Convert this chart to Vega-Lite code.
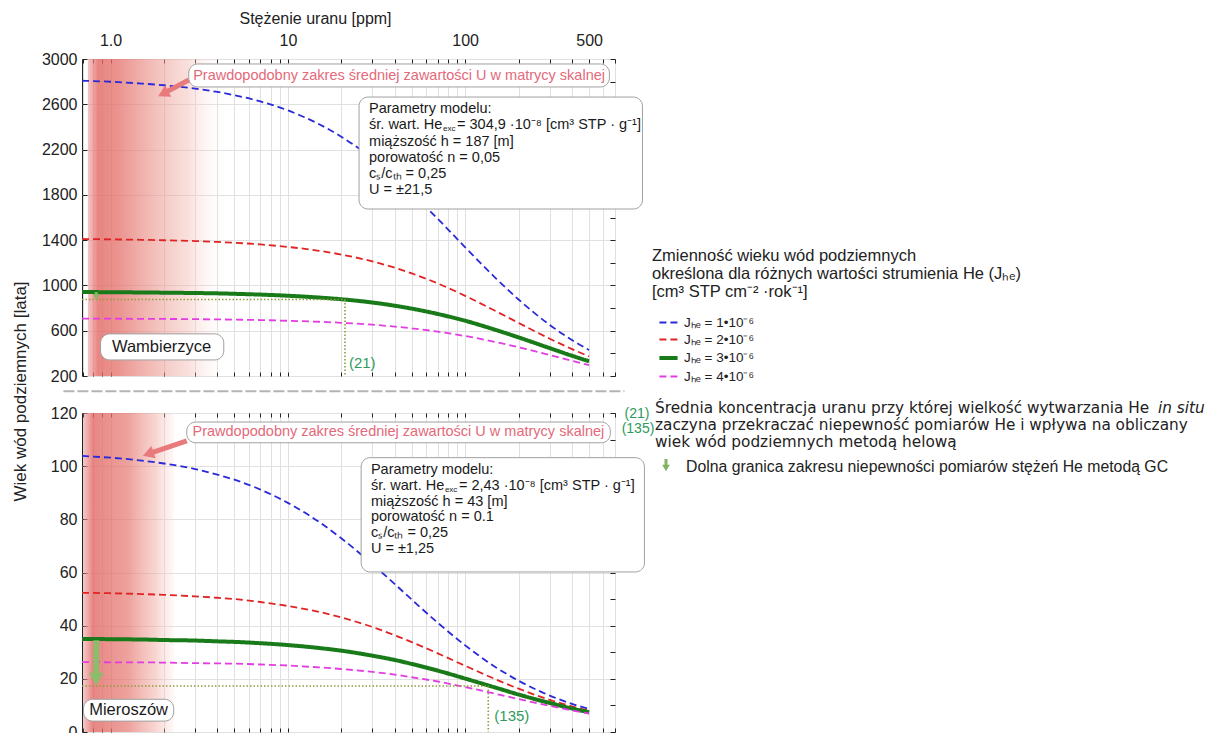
{
"$schema": "https://vega.github.io/schema/vega-lite/v6.json",
"background": "white",
"padding": {"left": 10, "top": 9, "right": 0, "bottom": 0},
"config": {
  "font": "Liberation Sans",
  "view": {"stroke": "#222", "strokeWidth": 1},
  "axis": {"domain": false, "labelFont": "Liberation Sans", "labelColor": "#222", "tickColor": "#222", "titleColor": "#222", "titleFontWeight": "normal", "gridColor": "#e0e0e0", "gridWidth": 1, "labelFontSize": 16, "titleFontSize": 16, "labelOverlap": false, "labelFlush": false, "labelBound": false},
  "legend": {"orient": "none", "legendX": 570, "legendY": 189, "padding": 0, "titleFont": "Liberation Sans", "titleFontSize": 16.5, "titleFontWeight": "normal", "titleLineHeight": 18, "titleColor": "#222", "titleLimit": 700, "titlePadding": 12, "labelFont": "Liberation Sans", "labelFontSize": 13.5, "labelColor": "#222", "symbolType": "stroke", "symbolSize": 330, "rowPadding": 0, "labelOffset": 4, "symbolOffset": 5},
  "text": {"font": "Liberation Sans"}
},
"datasets": {
  "curves": [
    {"p":"top","j":1,"u":0.69,"t":2808},{"p":"top","j":1,"u":0.8,"t":2805},{"p":"top","j":1,"u":1,"t":2799},{"p":"top","j":1,"u":1.5,"t":2783},{"p":"top","j":1,"u":2,"t":2768},{"p":"top","j":1,"u":3,"t":2738},{"p":"top","j":1,"u":4,"t":2709},{"p":"top","j":1,"u":5,"t":2680},{"p":"top","j":1,"u":7,"t":2625},{"p":"top","j":1,"u":10,"t":2546},{"p":"top","j":1,"u":15,"t":2424},{"p":"top","j":1,"u":20,"t":2314},{"p":"top","j":1,"u":30,"t":2120},{"p":"top","j":1,"u":40,"t":1957},{"p":"top","j":1,"u":50,"t":1816},{"p":"top","j":1,"u":70,"t":1589},{"p":"top","j":1,"u":100,"t":1337},{"p":"top","j":1,"u":150,"t":1058},{"p":"top","j":1,"u":200,"t":876},{"p":"top","j":1,"u":300,"t":651},{"p":"top","j":1,"u":400,"t":518},{"p":"top","j":1,"u":500,"t":430},
    {"p":"top","j":2,"u":0.69,"t":1410},{"p":"top","j":2,"u":0.8,"t":1409},{"p":"top","j":2,"u":1,"t":1407},{"p":"top","j":2,"u":1.5,"t":1403},{"p":"top","j":2,"u":2,"t":1399},{"p":"top","j":2,"u":3,"t":1392},{"p":"top","j":2,"u":4,"t":1384},{"p":"top","j":2,"u":5,"t":1377},{"p":"top","j":2,"u":7,"t":1362},{"p":"top","j":2,"u":10,"t":1340},{"p":"top","j":2,"u":15,"t":1306},{"p":"top","j":2,"u":20,"t":1273},{"p":"top","j":2,"u":30,"t":1212},{"p":"top","j":2,"u":40,"t":1157},{"p":"top","j":2,"u":50,"t":1106},{"p":"top","j":2,"u":70,"t":1018},{"p":"top","j":2,"u":100,"t":908},{"p":"top","j":2,"u":150,"t":770},{"p":"top","j":2,"u":200,"t":669},{"p":"top","j":2,"u":300,"t":529},{"p":"top","j":2,"u":400,"t":438},{"p":"top","j":2,"u":500,"t":373},
    {"p":"top","j":3,"u":0.69,"t":941},{"p":"top","j":3,"u":0.8,"t":941},{"p":"top","j":3,"u":1,"t":940},{"p":"top","j":3,"u":1.5,"t":938},{"p":"top","j":3,"u":2,"t":936},{"p":"top","j":3,"u":3,"t":933},{"p":"top","j":3,"u":4,"t":930},{"p":"top","j":3,"u":5,"t":926},{"p":"top","j":3,"u":7,"t":919},{"p":"top","j":3,"u":10,"t":909},{"p":"top","j":3,"u":15,"t":893},{"p":"top","j":3,"u":20,"t":878},{"p":"top","j":3,"u":30,"t":849},{"p":"top","j":3,"u":40,"t":821},{"p":"top","j":3,"u":50,"t":795},{"p":"top","j":3,"u":70,"t":748},{"p":"top","j":3,"u":100,"t":688},{"p":"top","j":3,"u":150,"t":605},{"p":"top","j":3,"u":200,"t":541},{"p":"top","j":3,"u":300,"t":446},{"p":"top","j":3,"u":400,"t":379},{"p":"top","j":3,"u":500,"t":330},
    {"p":"top","j":4,"u":0.69,"t":706},{"p":"top","j":4,"u":0.8,"t":706},{"p":"top","j":4,"u":1,"t":706},{"p":"top","j":4,"u":1.5,"t":705},{"p":"top","j":4,"u":2,"t":704},{"p":"top","j":4,"u":3,"t":702},{"p":"top","j":4,"u":4,"t":700},{"p":"top","j":4,"u":5,"t":698},{"p":"top","j":4,"u":7,"t":694},{"p":"top","j":4,"u":10,"t":688},{"p":"top","j":4,"u":15,"t":679},{"p":"top","j":4,"u":20,"t":670},{"p":"top","j":4,"u":30,"t":653},{"p":"top","j":4,"u":40,"t":636},{"p":"top","j":4,"u":50,"t":621},{"p":"top","j":4,"u":70,"t":592},{"p":"top","j":4,"u":100,"t":553},{"p":"top","j":4,"u":150,"t":499},{"p":"top","j":4,"u":200,"t":454},{"p":"top","j":4,"u":300,"t":385},{"p":"top","j":4,"u":400,"t":334},{"p":"top","j":4,"u":500,"t":295},
    {"p":"bot","j":1,"u":0.69,"t":103.9},{"p":"bot","j":1,"u":0.8,"t":103.6},{"p":"bot","j":1,"u":1,"t":103.2},{"p":"bot","j":1,"u":1.5,"t":102.1},{"p":"bot","j":1,"u":2,"t":101.0},{"p":"bot","j":1,"u":3,"t":98.9},{"p":"bot","j":1,"u":4,"t":96.8},{"p":"bot","j":1,"u":5,"t":94.9},{"p":"bot","j":1,"u":7,"t":91.2},{"p":"bot","j":1,"u":10,"t":86.2},{"p":"bot","j":1,"u":15,"t":79.0},{"p":"bot","j":1,"u":20,"t":72.9},{"p":"bot","j":1,"u":30,"t":63.1},{"p":"bot","j":1,"u":40,"t":55.7},{"p":"bot","j":1,"u":50,"t":49.8},{"p":"bot","j":1,"u":70,"t":41.1},{"p":"bot","j":1,"u":100,"t":32.6},{"p":"bot","j":1,"u":150,"t":24.2},{"p":"bot","j":1,"u":200,"t":19.3},{"p":"bot","j":1,"u":300,"t":13.7},{"p":"bot","j":1,"u":400,"t":10.6},{"p":"bot","j":1,"u":500,"t":8.65},
    {"p":"bot","j":2,"u":0.69,"t":52.3},{"p":"bot","j":2,"u":0.8,"t":52.3},{"p":"bot","j":2,"u":1,"t":52.2},{"p":"bot","j":2,"u":1.5,"t":51.9},{"p":"bot","j":2,"u":2,"t":51.6},{"p":"bot","j":2,"u":3,"t":51.0},{"p":"bot","j":2,"u":4,"t":50.5},{"p":"bot","j":2,"u":5,"t":50.0},{"p":"bot","j":2,"u":7,"t":48.9},{"p":"bot","j":2,"u":10,"t":47.4},{"p":"bot","j":2,"u":15,"t":45.2},{"p":"bot","j":2,"u":20,"t":43.1},{"p":"bot","j":2,"u":30,"t":39.5},{"p":"bot","j":2,"u":40,"t":36.4},{"p":"bot","j":2,"u":50,"t":33.8},{"p":"bot","j":2,"u":70,"t":29.6},{"p":"bot","j":2,"u":100,"t":24.9},{"p":"bot","j":2,"u":150,"t":19.7},{"p":"bot","j":2,"u":200,"t":16.3},{"p":"bot","j":2,"u":300,"t":12.1},{"p":"bot","j":2,"u":400,"t":9.64},{"p":"bot","j":2,"u":500,"t":8.0},
    {"p":"bot","j":3,"u":0.69,"t":35.0},{"p":"bot","j":3,"u":0.8,"t":35.0},{"p":"bot","j":3,"u":1,"t":34.9},{"p":"bot","j":3,"u":1.5,"t":34.8},{"p":"bot","j":3,"u":2,"t":34.6},{"p":"bot","j":3,"u":3,"t":34.4},{"p":"bot","j":3,"u":4,"t":34.1},{"p":"bot","j":3,"u":5,"t":33.9},{"p":"bot","j":3,"u":7,"t":33.4},{"p":"bot","j":3,"u":10,"t":32.7},{"p":"bot","j":3,"u":15,"t":31.6},{"p":"bot","j":3,"u":20,"t":30.6},{"p":"bot","j":3,"u":30,"t":28.7},{"p":"bot","j":3,"u":40,"t":27.1},{"p":"bot","j":3,"u":50,"t":25.6},{"p":"bot","j":3,"u":70,"t":23.1},{"p":"bot","j":3,"u":100,"t":20.1},{"p":"bot","j":3,"u":150,"t":16.6},{"p":"bot","j":3,"u":200,"t":14.1},{"p":"bot","j":3,"u":300,"t":10.9},{"p":"bot","j":3,"u":400,"t":8.83},{"p":"bot","j":3,"u":500,"t":7.43},
    {"p":"bot","j":4,"u":0.69,"t":26.3},{"p":"bot","j":4,"u":0.8,"t":26.3},{"p":"bot","j":4,"u":1,"t":26.2},{"p":"bot","j":4,"u":1.5,"t":26.2},{"p":"bot","j":4,"u":2,"t":26.1},{"p":"bot","j":4,"u":3,"t":25.9},{"p":"bot","j":4,"u":4,"t":25.8},{"p":"bot","j":4,"u":5,"t":25.7},{"p":"bot","j":4,"u":7,"t":25.4},{"p":"bot","j":4,"u":10,"t":25.0},{"p":"bot","j":4,"u":15,"t":24.3},{"p":"bot","j":4,"u":20,"t":23.7},{"p":"bot","j":4,"u":30,"t":22.6},{"p":"bot","j":4,"u":40,"t":21.6},{"p":"bot","j":4,"u":50,"t":20.6},{"p":"bot","j":4,"u":70,"t":19.0},{"p":"bot","j":4,"u":100,"t":16.9},{"p":"bot","j":4,"u":150,"t":14.3},{"p":"bot","j":4,"u":200,"t":12.4},{"p":"bot","j":4,"u":300,"t":9.85},{"p":"bot","j":4,"u":400,"t":8.15},{"p":"bot","j":4,"u":500,"t":6.95}
  ],
  "ann": [
    {"p":"top","k":"band","u":0.745,"u2":4.6,"t":200,"t2":3000},
    {"p":"top","k":"dot","u":0.69,"u2":21,"t":876,"t2":876},
    {"p":"top","k":"dot","u":21,"u2":21,"t":876,"t2":200},
    {"p":"top","k":"gshaft","u":0.83,"u2":0.83,"t":941,"t2":905},
    {"p":"top","k":"ghead","u":0.83,"t":898},
    {"p":"top","k":"pshaft","u":2.76,"u2":1.98,"t":2815,"t2":2694},
    {"p":"top","k":"phead","u":1.98,"t":2694},
    {"p":"top","k":"box","u":2.76,"u2":651,"t":2956,"t2":2753},
    {"p":"top","k":"box","u":25.2,"u2":1000,"t":2664,"t2":1675},
    {"p":"top","k":"box","u":0.878,"u2":4.35,"t":572,"t2":342},
    {"p":"top","k":"ptxt","u":42.4,"t":2854,"txt":"Prawdopodobny zakres średniej zawartości U w matrycy skalnej"},
    {"p":"top","k":"txt","u":28.7,"t":2558,"txt":"Parametry modelu:"},
    {"p":"top","k":"txt","u":28.7,"t":2417,"txt":"śr. wart. He"},
    {"p":"top","k":"sub","u":28.7,"t":2417,"txt":"exc"},
    {"p":"top","k":"rest","u":28.7,"t":2417,"txt":"= 304,9 ·10⁻⁸  [cm³ STP · g⁻¹]"},
    {"p":"top","k":"txt","u":28.7,"t":2267,"txt":"miąższość h = 187 [m]"},
    {"p":"top","k":"txt","u":28.7,"t":2126,"txt":"porowatość n = 0,05"},
    {"p":"top","k":"txt","u":28.7,"t":1985,"txt":"cₛ/cₜₕ = 0,25"},
    {"p":"top","k":"txt","u":28.7,"t":1844,"txt":"U = ±21,5"},
    {"p":"top","k":"ctxt","u":1.94,"t":457,"txt":"Wambierzyce"},
    {"p":"top","k":"gtxt","u":22.1,"t":316,"txt":"(21)"},
    {"p":"bot","k":"sep","u":0.542,"u2":791,"t":128.2},
    {"p":"bot","k":"band","u":0.704,"u2":2.27,"t":0,"t2":120},
    {"p":"bot","k":"dot","u":0.69,"u2":135,"t":17.3,"t2":17.3},
    {"p":"bot","k":"dot","u":135,"u2":135,"t":17.3,"t2":0},
    {"p":"bot","k":"gshaft","u":0.83,"u2":0.83,"t":34.5,"t2":22},
    {"p":"bot","k":"ghead","u":0.83,"t":19.9},
    {"p":"bot","k":"pshaft","u":2.69,"u2":1.63,"t":109.5,"t2":104.6},
    {"p":"bot","k":"phead","u":1.63,"t":104.6},
    {"p":"bot","k":"box","u":2.69,"u2":659,"t":116.6,"t2":108.8},
    {"p":"bot","k":"box","u":25.9,"u2":1026,"t":103.2,"t2":60.2},
    {"p":"bot","k":"box","u":0.704,"u2":2.27,"t":12.3,"t2":4.1},
    {"p":"bot","k":"ptxt","u":42,"t":112.9,"txt":"Prawdopodobny zakres średniej zawartości U w matrycy skalnej"},
    {"p":"bot","k":"txt","u":29.4,"t":98.7,"txt":"Parametry modelu:"},
    {"p":"bot","k":"txt","u":29.4,"t":92.7,"txt":"śr. wart. He"},
    {"p":"bot","k":"sub","u":29.4,"t":92.7,"txt":"exc"},
    {"p":"bot","k":"rest","u":29.4,"t":92.7,"txt":"= 2,43 ·10⁻⁸  [cm³ STP · g⁻¹]"},
    {"p":"bot","k":"txt","u":29.4,"t":86.7,"txt":"miąższość h = 43 [m]"},
    {"p":"bot","k":"txt","u":29.4,"t":80.7,"txt":"porowatość n = 0.1"},
    {"p":"bot","k":"txt","u":29.4,"t":74.8,"txt":"cₛ/cₜₕ = 0,25"},
    {"p":"bot","k":"txt","u":29.4,"t":68.8,"txt":"U = ±1,25"},
    {"p":"bot","k":"ctxt","u":1.264,"t":8.2,"txt":"Mieroszów"},
    {"p":"bot","k":"gtxt","u":146,"t":6.0,"txt":"(135)"}
  ],
  "notes": [
    {"k":"g","x":17,"y":355,"txt":"(21)"},
    {"k":"g","x":18,"y":370,"txt":"(135)"},
    {"k":"t","x":35,"y":349,"txt":"Średnia koncentracja uranu przy której wielkość wytwarzania He"},
    {"k":"i","x":538,"y":349,"txt":"in situ"},
    {"k":"t","x":35,"y":366,"txt":"zaczyna przekraczać niepewność pomiarów He i wpływa na obliczany"},
    {"k":"t","x":35,"y":383,"txt":"wiek wód podziemnych metodą helową"},
    {"k":"d","x":66,"y":408,"txt":"Dolna granica zakresu niepewności pomiarów stężeń He metodą GC"},
    {"k":"shaft","x":46,"y":400,"y2":407},
    {"k":"head","x":46,"y":409}
  ]
},
"hconcat": [
  {
    "vconcat": [
      {
        "width": 533, "height": 317,
        "resolve": {"axis": {"x": "independent", "y": "independent"}},
        "layer": [
          {
            "data": {"name": "ann"}, "transform": [{"filter": "datum.p=='top' && datum.k=='band'"}],
            "mark": {"type": "rect", "fill": {"gradient": "linear", "x1": 0, "y1": 0, "x2": 1, "y2": 0, "stops": [
              {"offset": 0, "color": "rgba(236,150,148,0.55)"},
              {"offset": 0.07, "color": "rgba(226,104,100,0.8)"},
              {"offset": 0.22, "color": "rgba(228,112,106,0.75)"},
              {"offset": 0.45, "color": "rgba(234,142,134,0.6)"},
              {"offset": 0.72, "color": "rgba(242,182,174,0.42)"},
              {"offset": 1, "color": "rgba(255,255,255,0)"}]}},
            "encoding": {
              "x": {"field": "u", "type": "quantitative", "scale": {"type": "log", "domain": [0.69, 700], "nice": false},
                    "axis": {"orient": "top", "values": [0.7,0.8,0.9,1,2,3,4,5,6,7,8,9,10,20,30,40,50,60,70,80,90,100,200,300,400,500,600,700],
                             "labelExpr": "datum.value==1 ? '1.0' : (datum.value==10 || datum.value==100 || datum.value==500) ? format(datum.value,'d') : ''",
                             "grid": true, "tickSize": -4, "labelPadding": 15,
                             "title": "Stężenie uranu [ppm]", "titleX": 233, "titleY": -41, "titleAlign": "center", "titleBaseline": "middle"}},
              "x2": {"field": "u2"},
              "y": {"field": "t", "type": "quantitative", "scale": {"domain": [200, 3000], "nice": false, "zero": false},
                    "axis": {"orient": "left", "values": [200,600,1000,1400,1800,2200,2600,3000], "format": "d", "grid": true, "tickSize": -5, "labelPadding": 10,
                             "title": "Wiek wód podziemnych [lata]", "titleFontSize": 17, "titleX": -62, "titleY": 332, "titleAngle": 270, "titleAlign": "center", "titleBaseline": "middle"}},
              "y2": {"field": "t2"}
            }
          },
          {
            "data": {"name": "curves"}, "transform": [{"filter": "datum.p=='top'"}],
            "mark": {"type": "line", "interpolate": "monotone"},
            "encoding": {
              "x": {"field": "u", "type": "quantitative", "scale": {"type": "log", "domain": [0.69, 700], "nice": false},
                    "axis": {"orient": "bottom", "values": [0.7,0.8,0.9,1,2,3,4,5,6,7,8,9,10,20,30,40,50,60,70,80,90,100,200,300,400,500,600,700], "labels": false, "grid": false, "tickSize": -4, "title": null}},
              "y": {"field": "t", "type": "quantitative", "scale": {"domain": [200, 3000], "nice": false, "zero": false},
                    "axis": {"orient": "right", "values": [200,400,600,800,1000,1200,1400,1600,1800,2000,2200,2400,2600,2800,3000], "labels": false, "grid": false, "tickSize": -5, "title": null}},
              "color": {"field": "j", "type": "ordinal", "scale": {"domain": [1,2,3,4], "range": ["#2a2ad8", "#e02424", "#187a18", "#e23ce2"]},
                        "legend": {"title": ["Zmienność wieku wód podziemnych", "określona dla różnych wartości strumienia He (Jₕₑ)", "[cm³ STP cm⁻² ·rok⁻¹]"], "labelExpr": "'Jₕₑ = ' + datum.label + '•10⁻⁶'"}},
              "strokeDash": {"field": "j", "type": "ordinal", "scale": {"type": "ordinal", "domain": [1,2,3,4], "range": [[7,4],[7,4],[1,0],[7,4]]},
                        "legend": {"title": ["Zmienność wieku wód podziemnych", "określona dla różnych wartości strumienia He (Jₕₑ)", "[cm³ STP cm⁻² ·rok⁻¹]"], "labelExpr": "'Jₕₑ = ' + datum.label + '•10⁻⁶'"}},
              "strokeWidth": {"field": "j", "type": "ordinal", "scale": {"type": "ordinal", "domain": [1,2,3,4], "range": [1.8,1.8,4,1.8]},
                        "legend": {"title": ["Zmienność wieku wód podziemnych", "określona dla różnych wartości strumienia He (Jₕₑ)", "[cm³ STP cm⁻² ·rok⁻¹]"], "labelExpr": "'Jₕₑ = ' + datum.label + '•10⁻⁶'"}}
            }
          },
          {
            "data": {"name": "ann"}, "transform": [{"filter": "datum.p=='top' && datum.k=='dot'"}],
            "mark": {"type": "rule", "color": "#8e9c3e", "strokeWidth": 1.6, "strokeDash": [1.5, 2]},
            "encoding": {
              "x": {"field": "u", "type": "quantitative", "scale": {"type": "log", "domain": [0.69, 700], "nice": false}, "axis": null},
              "x2": {"field": "u2"},
              "y": {"field": "t", "type": "quantitative", "scale": {"domain": [200, 3000], "nice": false, "zero": false}, "axis": null},
              "y2": {"field": "t2"}
            }
          },
          {
            "data": {"name": "ann"}, "transform": [{"filter": "datum.p=='top' && datum.k=='gshaft'"}],
            "mark": {"type": "rule", "color": "#86b866", "strokeWidth": 3},
            "encoding": {
              "x": {"field": "u", "type": "quantitative", "scale": {"type": "log", "domain": [0.69, 700], "nice": false}, "axis": null},
              "y": {"field": "t", "type": "quantitative", "scale": {"domain": [200, 3000], "nice": false, "zero": false}, "axis": null},
              "y2": {"field": "t2"}
            }
          },
          {
            "data": {"name": "ann"}, "transform": [{"filter": "datum.p=='top' && datum.k=='ghead'"}],
            "mark": {"type": "point", "shape": "triangle-down", "filled": true, "color": "#86b866", "size": 45, "opacity": 1},
            "encoding": {
              "x": {"field": "u", "type": "quantitative", "scale": {"type": "log", "domain": [0.69, 700], "nice": false}, "axis": null},
              "y": {"field": "t", "type": "quantitative", "scale": {"domain": [200, 3000], "nice": false, "zero": false}, "axis": null}
            }
          },
          {
            "data": {"name": "ann"}, "transform": [{"filter": "datum.p=='top' && datum.k=='box'"}],
            "mark": {"type": "rect", "fill": "white", "stroke": "#a0a0a0", "strokeWidth": 1, "cornerRadius": 9, "clip": false},
            "encoding": {
              "x": {"field": "u", "type": "quantitative", "scale": {"type": "log", "domain": [0.69, 700], "nice": false}, "axis": null},
              "x2": {"field": "u2"},
              "y": {"field": "t", "type": "quantitative", "scale": {"domain": [200, 3000], "nice": false, "zero": false}, "axis": null},
              "y2": {"field": "t2"}
            }
          },
          {
            "data": {"name": "ann"}, "transform": [{"filter": "datum.p=='top' && datum.k=='pshaft'"}],
            "mark": {"type": "rule", "color": "#e97a7c", "strokeWidth": 5},
            "encoding": {
              "x": {"field": "u", "type": "quantitative", "scale": {"type": "log", "domain": [0.69, 700], "nice": false}, "axis": null},
              "x2": {"field": "u2"},
              "y": {"field": "t", "type": "quantitative", "scale": {"domain": [200, 3000], "nice": false, "zero": false}, "axis": null},
              "y2": {"field": "t2"}
            }
          },
          {
            "data": {"name": "ann"}, "transform": [{"filter": "datum.p=='top' && datum.k=='phead'"}],
            "mark": {"type": "point", "shape": "triangle-up", "filled": true, "color": "#e97a7c", "size": 170, "angle": 242, "opacity": 1},
            "encoding": {
              "x": {"field": "u", "type": "quantitative", "scale": {"type": "log", "domain": [0.69, 700], "nice": false}, "axis": null},
              "y": {"field": "t", "type": "quantitative", "scale": {"domain": [200, 3000], "nice": false, "zero": false}, "axis": null}
            }
          },
          {
            "data": {"name": "ann"}, "transform": [{"filter": "datum.p=='top' && datum.k=='ptxt'"}],
            "mark": {"type": "text", "color": "#e4697a", "fontSize": 14.5, "align": "center", "baseline": "middle"},
            "encoding": {
              "x": {"field": "u", "type": "quantitative", "scale": {"type": "log", "domain": [0.69, 700], "nice": false}, "axis": null},
              "y": {"field": "t", "type": "quantitative", "scale": {"domain": [200, 3000], "nice": false, "zero": false}, "axis": null},
              "text": {"field": "txt"}
            }
          },
          {
            "data": {"name": "ann"}, "transform": [{"filter": "datum.p=='top' && datum.k=='txt'"}],
            "mark": {"type": "text", "color": "#1a1a1a", "fontSize": 14.5, "align": "left", "baseline": "middle"},
            "encoding": {
              "x": {"field": "u", "type": "quantitative", "scale": {"type": "log", "domain": [0.69, 700], "nice": false}, "axis": null},
              "y": {"field": "t", "type": "quantitative", "scale": {"domain": [200, 3000], "nice": false, "zero": false}, "axis": null},
              "text": {"field": "txt"}
            }
          },
          {
            "data": {"name": "ann"}, "transform": [{"filter": "datum.p=='top' && datum.k=='sub'"}],
            "mark": {"type": "text", "color": "#1a1a1a", "fontSize": 8, "align": "left", "baseline": "middle", "dx": 74, "dy": 4},
            "encoding": {
              "x": {"field": "u", "type": "quantitative", "scale": {"type": "log", "domain": [0.69, 700], "nice": false}, "axis": null},
              "y": {"field": "t", "type": "quantitative", "scale": {"domain": [200, 3000], "nice": false, "zero": false}, "axis": null},
              "text": {"field": "txt"}
            }
          },
          {
            "data": {"name": "ann"}, "transform": [{"filter": "datum.p=='top' && datum.k=='rest'"}],
            "mark": {"type": "text", "color": "#1a1a1a", "fontSize": 14.5, "align": "left", "baseline": "middle", "dx": 88},
            "encoding": {
              "x": {"field": "u", "type": "quantitative", "scale": {"type": "log", "domain": [0.69, 700], "nice": false}, "axis": null},
              "y": {"field": "t", "type": "quantitative", "scale": {"domain": [200, 3000], "nice": false, "zero": false}, "axis": null},
              "text": {"field": "txt"}
            }
          },
          {
            "data": {"name": "ann"}, "transform": [{"filter": "datum.p=='top' && datum.k=='ctxt'"}],
            "mark": {"type": "text", "color": "#1a1a1a", "fontSize": 16.5, "align": "center", "baseline": "middle"},
            "encoding": {
              "x": {"field": "u", "type": "quantitative", "scale": {"type": "log", "domain": [0.69, 700], "nice": false}, "axis": null},
              "y": {"field": "t", "type": "quantitative", "scale": {"domain": [200, 3000], "nice": false, "zero": false}, "axis": null},
              "text": {"field": "txt"}
            }
          },
          {
            "data": {"name": "ann"}, "transform": [{"filter": "datum.p=='top' && datum.k=='gtxt'"}],
            "mark": {"type": "text", "color": "#2e9a5c", "fontSize": 15, "align": "left", "baseline": "middle"},
            "encoding": {
              "x": {"field": "u", "type": "quantitative", "scale": {"type": "log", "domain": [0.69, 700], "nice": false}, "axis": null},
              "y": {"field": "t", "type": "quantitative", "scale": {"domain": [200, 3000], "nice": false, "zero": false}, "axis": null},
              "text": {"field": "txt"}
            }
          }
        ]
      },
      {
        "width": 533, "height": 319,
        "resolve": {"axis": {"x": "independent", "y": "independent"}},
        "layer": [
          {
            "data": {"name": "ann"}, "transform": [{"filter": "datum.p=='bot' && datum.k=='band'"}],
            "mark": {"type": "rect", "fill": {"gradient": "linear", "x1": 0, "y1": 0, "x2": 1, "y2": 0, "stops": [
              {"offset": 0, "color": "rgba(236,150,148,0.55)"},
              {"offset": 0.1, "color": "rgba(226,104,100,0.8)"},
              {"offset": 0.5, "color": "rgba(230,122,116,0.7)"},
              {"offset": 0.8, "color": "rgba(240,172,164,0.5)"},
              {"offset": 1, "color": "rgba(250,225,220,0.25)"}]}},
            "encoding": {
              "x": {"field": "u", "type": "quantitative", "scale": {"type": "log", "domain": [0.69, 700], "nice": false},
                    "axis": {"orient": "top", "values": [0.7,0.8,0.9,1,2,3,4,5,6,7,8,9,10,20,30,40,50,60,70,80,90,100,200,300,400,500,600,700], "labels": false, "grid": true, "tickSize": -4, "title": null}},
              "x2": {"field": "u2"},
              "y": {"field": "t", "type": "quantitative", "scale": {"domain": [0, 120], "nice": false},
                    "axis": {"orient": "left", "values": [0,20,40,60,80,100,120], "grid": true, "tickSize": -5, "labelPadding": 10, "title": null}},
              "y2": {"field": "t2"}
            }
          },
          {
            "data": {"name": "curves"}, "transform": [{"filter": "datum.p=='bot'"}],
            "mark": {"type": "line", "interpolate": "monotone"},
            "encoding": {
              "x": {"field": "u", "type": "quantitative", "scale": {"type": "log", "domain": [0.69, 700], "nice": false},
                    "axis": {"orient": "bottom", "values": [0.7,0.8,0.9,1,2,3,4,5,6,7,8,9,10,20,30,40,50,60,70,80,90,100,200,300,400,500,600,700], "labels": false, "grid": false, "tickSize": -4, "title": null}},
              "y": {"field": "t", "type": "quantitative", "scale": {"domain": [0, 120], "nice": false},
                    "axis": {"orient": "right", "values": [0,10,20,30,40,50,60,70,80,90,100,110,120], "labels": false, "grid": false, "tickSize": -5, "title": null}},
              "color": {"field": "j", "type": "ordinal", "scale": {"domain": [1,2,3,4], "range": ["#2a2ad8", "#e02424", "#187a18", "#e23ce2"]},
                        "legend": {"title": ["Zmienność wieku wód podziemnych", "określona dla różnych wartości strumienia He (Jₕₑ)", "[cm³ STP cm⁻² ·rok⁻¹]"], "labelExpr": "'Jₕₑ = ' + datum.label + '•10⁻⁶'"}},
              "strokeDash": {"field": "j", "type": "ordinal", "scale": {"type": "ordinal", "domain": [1,2,3,4], "range": [[7,4],[7,4],[1,0],[7,4]]},
                        "legend": {"title": ["Zmienność wieku wód podziemnych", "określona dla różnych wartości strumienia He (Jₕₑ)", "[cm³ STP cm⁻² ·rok⁻¹]"], "labelExpr": "'Jₕₑ = ' + datum.label + '•10⁻⁶'"}},
              "strokeWidth": {"field": "j", "type": "ordinal", "scale": {"type": "ordinal", "domain": [1,2,3,4], "range": [1.8,1.8,4,1.8]},
                        "legend": {"title": ["Zmienność wieku wód podziemnych", "określona dla różnych wartości strumienia He (Jₕₑ)", "[cm³ STP cm⁻² ·rok⁻¹]"], "labelExpr": "'Jₕₑ = ' + datum.label + '•10⁻⁶'"}}
            }
          },
          {
            "data": {"name": "ann"}, "transform": [{"filter": "datum.p=='bot' && datum.k=='sep'"}],
            "mark": {"type": "rule", "color": "#b4b4b4", "strokeWidth": 2, "strokeDash": [11, 3], "clip": false},
            "encoding": {
              "x": {"field": "u", "type": "quantitative", "scale": {"type": "log", "domain": [0.69, 700], "nice": false}, "axis": null},
              "x2": {"field": "u2"},
              "y": {"field": "t", "type": "quantitative", "scale": {"domain": [0, 120], "nice": false}, "axis": null}
            }
          },
          {
            "data": {"name": "ann"}, "transform": [{"filter": "datum.p=='bot' && datum.k=='dot'"}],
            "mark": {"type": "rule", "color": "#8e9c3e", "strokeWidth": 1.6, "strokeDash": [1.5, 2]},
            "encoding": {
              "x": {"field": "u", "type": "quantitative", "scale": {"type": "log", "domain": [0.69, 700], "nice": false}, "axis": null},
              "x2": {"field": "u2"},
              "y": {"field": "t", "type": "quantitative", "scale": {"domain": [0, 120], "nice": false}, "axis": null},
              "y2": {"field": "t2"}
            }
          },
          {
            "data": {"name": "ann"}, "transform": [{"filter": "datum.p=='bot' && datum.k=='gshaft'"}],
            "mark": {"type": "rule", "color": "#8cbc6c", "strokeWidth": 6},
            "encoding": {
              "x": {"field": "u", "type": "quantitative", "scale": {"type": "log", "domain": [0.69, 700], "nice": false}, "axis": null},
              "y": {"field": "t", "type": "quantitative", "scale": {"domain": [0, 120], "nice": false}, "axis": null},
              "y2": {"field": "t2"}
            }
          },
          {
            "data": {"name": "ann"}, "transform": [{"filter": "datum.p=='bot' && datum.k=='ghead'"}],
            "mark": {"type": "point", "shape": "triangle-down", "filled": true, "color": "#8cbc6c", "size": 220, "opacity": 1},
            "encoding": {
              "x": {"field": "u", "type": "quantitative", "scale": {"type": "log", "domain": [0.69, 700], "nice": false}, "axis": null},
              "y": {"field": "t", "type": "quantitative", "scale": {"domain": [0, 120], "nice": false}, "axis": null}
            }
          },
          {
            "data": {"name": "ann"}, "transform": [{"filter": "datum.p=='bot' && datum.k=='box'"}],
            "mark": {"type": "rect", "fill": "white", "stroke": "#a0a0a0", "strokeWidth": 1, "cornerRadius": 9, "clip": false},
            "encoding": {
              "x": {"field": "u", "type": "quantitative", "scale": {"type": "log", "domain": [0.69, 700], "nice": false}, "axis": null},
              "x2": {"field": "u2"},
              "y": {"field": "t", "type": "quantitative", "scale": {"domain": [0, 120], "nice": false}, "axis": null},
              "y2": {"field": "t2"}
            }
          },
          {
            "data": {"name": "ann"}, "transform": [{"filter": "datum.p=='bot' && datum.k=='pshaft'"}],
            "mark": {"type": "rule", "color": "#e97a7c", "strokeWidth": 5},
            "encoding": {
              "x": {"field": "u", "type": "quantitative", "scale": {"type": "log", "domain": [0.69, 700], "nice": false}, "axis": null},
              "x2": {"field": "u2"},
              "y": {"field": "t", "type": "quantitative", "scale": {"domain": [0, 120], "nice": false}, "axis": null},
              "y2": {"field": "t2"}
            }
          },
          {
            "data": {"name": "ann"}, "transform": [{"filter": "datum.p=='bot' && datum.k=='phead'"}],
            "mark": {"type": "point", "shape": "triangle-up", "filled": true, "color": "#e97a7c", "size": 170, "angle": 251, "opacity": 1},
            "encoding": {
              "x": {"field": "u", "type": "quantitative", "scale": {"type": "log", "domain": [0.69, 700], "nice": false}, "axis": null},
              "y": {"field": "t", "type": "quantitative", "scale": {"domain": [0, 120], "nice": false}, "axis": null}
            }
          },
          {
            "data": {"name": "ann"}, "transform": [{"filter": "datum.p=='bot' && datum.k=='ptxt'"}],
            "mark": {"type": "text", "color": "#e4697a", "fontSize": 14.5, "align": "center", "baseline": "middle"},
            "encoding": {
              "x": {"field": "u", "type": "quantitative", "scale": {"type": "log", "domain": [0.69, 700], "nice": false}, "axis": null},
              "y": {"field": "t", "type": "quantitative", "scale": {"domain": [0, 120], "nice": false}, "axis": null},
              "text": {"field": "txt"}
            }
          },
          {
            "data": {"name": "ann"}, "transform": [{"filter": "datum.p=='bot' && datum.k=='txt'"}],
            "mark": {"type": "text", "color": "#1a1a1a", "fontSize": 14.5, "align": "left", "baseline": "middle"},
            "encoding": {
              "x": {"field": "u", "type": "quantitative", "scale": {"type": "log", "domain": [0.69, 700], "nice": false}, "axis": null},
              "y": {"field": "t", "type": "quantitative", "scale": {"domain": [0, 120], "nice": false}, "axis": null},
              "text": {"field": "txt"}
            }
          },
          {
            "data": {"name": "ann"}, "transform": [{"filter": "datum.p=='bot' && datum.k=='sub'"}],
            "mark": {"type": "text", "color": "#1a1a1a", "fontSize": 8, "align": "left", "baseline": "middle", "dx": 74, "dy": 4},
            "encoding": {
              "x": {"field": "u", "type": "quantitative", "scale": {"type": "log", "domain": [0.69, 700], "nice": false}, "axis": null},
              "y": {"field": "t", "type": "quantitative", "scale": {"domain": [0, 120], "nice": false}, "axis": null},
              "text": {"field": "txt"}
            }
          },
          {
            "data": {"name": "ann"}, "transform": [{"filter": "datum.p=='bot' && datum.k=='rest'"}],
            "mark": {"type": "text", "color": "#1a1a1a", "fontSize": 14.5, "align": "left", "baseline": "middle", "dx": 88},
            "encoding": {
              "x": {"field": "u", "type": "quantitative", "scale": {"type": "log", "domain": [0.69, 700], "nice": false}, "axis": null},
              "y": {"field": "t", "type": "quantitative", "scale": {"domain": [0, 120], "nice": false}, "axis": null},
              "text": {"field": "txt"}
            }
          },
          {
            "data": {"name": "ann"}, "transform": [{"filter": "datum.p=='bot' && datum.k=='ctxt'"}],
            "mark": {"type": "text", "color": "#1a1a1a", "fontSize": 16.5, "align": "center", "baseline": "middle"},
            "encoding": {
              "x": {"field": "u", "type": "quantitative", "scale": {"type": "log", "domain": [0.69, 700], "nice": false}, "axis": null},
              "y": {"field": "t", "type": "quantitative", "scale": {"domain": [0, 120], "nice": false}, "axis": null},
              "text": {"field": "txt"}
            }
          },
          {
            "data": {"name": "ann"}, "transform": [{"filter": "datum.p=='bot' && datum.k=='gtxt'"}],
            "mark": {"type": "text", "color": "#2e9a5c", "fontSize": 15, "align": "left", "baseline": "middle"},
            "encoding": {
              "x": {"field": "u", "type": "quantitative", "scale": {"type": "log", "domain": [0.69, 700], "nice": false}, "axis": null},
              "y": {"field": "t", "type": "quantitative", "scale": {"domain": [0, 120], "nice": false}, "axis": null},
              "text": {"field": "txt"}
            }
          }
        ]
      }
    ],
    "spacing": 37,
    "bounds": "flush"
  },
  {
    "width": 600, "height": 675,
    "view": {"stroke": null},
    "data": {"name": "notes"},
    "encoding": {
      "x": {"field": "x", "type": "quantitative", "scale": {"domain": [0, 600], "nice": false, "zero": false}, "axis": null},
      "y": {"field": "y", "type": "quantitative", "scale": {"domain": [0, 675], "reverse": true, "nice": false}, "axis": null}
    },
    "layer": [
      {"transform": [{"filter": "datum.k=='g'"}], "mark": {"type": "text", "color": "#2e9a5c", "fontSize": 14, "align": "center", "baseline": "middle"}, "encoding": {"text": {"field": "txt"}}},
      {"transform": [{"filter": "datum.k=='t'"}], "mark": {"type": "text", "color": "#222", "font": "DejaVu Sans", "fontSize": 15.3, "align": "left", "baseline": "middle"}, "encoding": {"text": {"field": "txt"}}},
      {"transform": [{"filter": "datum.k=='i'"}], "mark": {"type": "text", "color": "#222", "font": "DejaVu Sans", "fontSize": 15.3, "fontStyle": "italic", "align": "left", "baseline": "middle"}, "encoding": {"text": {"field": "txt"}}},
      {"transform": [{"filter": "datum.k=='d'"}], "mark": {"type": "text", "color": "#222", "fontSize": 15.8, "align": "left", "baseline": "middle"}, "encoding": {"text": {"field": "txt"}}},
      {"transform": [{"filter": "datum.k=='shaft'"}], "mark": {"type": "rule", "color": "#7fb55f", "strokeWidth": 3}, "encoding": {"y2": {"field": "y2"}}},
      {"transform": [{"filter": "datum.k=='head'"}], "mark": {"type": "point", "shape": "triangle-down", "filled": true, "color": "#7fb55f", "size": 60, "opacity": 1}, "encoding": {}}
    ]
  }
],
"spacing": 538,
"bounds": "flush"
}
